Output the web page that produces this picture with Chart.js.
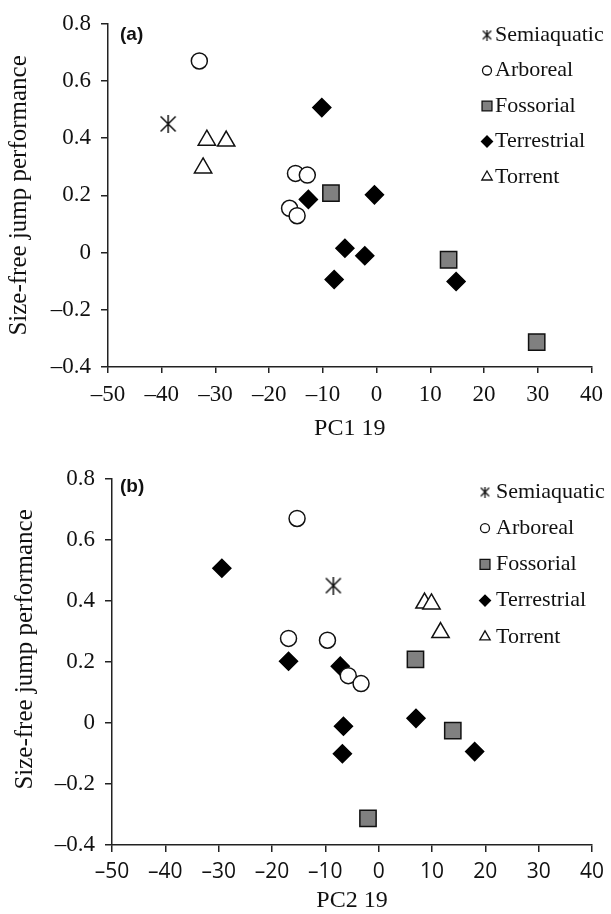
<!DOCTYPE html>
<html>
<head>
<meta charset="utf-8">
<script src="https://cdn.jsdelivr.net/npm/chart.js"></script>
<style>
  body { margin: 0; background: #fff; }
  #wrap { position: relative; width: 611px; height: 914px; overflow: hidden; }
  canvas { position: absolute; left: 0; }
  #chartA { top: 0; }
  #chartB { top: 455px; }
</style>
</head>
<body>
<div id="wrap">
  <canvas id="chartA" width="611" height="455"></canvas>
  <canvas id="chartB" width="611" height="459"></canvas>
</div>
<script>
var groupNames = ['Semiaquatic', 'Arboreal', 'Fossorial', 'Terrestrial', 'Torrent'];

// size-free jump performance (same species in both panels)
var jumpSemiaquatic = [0.45];
var jumpArboreal    = [0.67, 0.277, 0.271, 0.155, 0.129];
var jumpFossorial   = [0.208, -0.025, -0.313];
var jumpTerrestrial = [0.507, 0.186, 0.202, 0.015, -0.011, -0.094, -0.101];
var jumpTorrent     = [0.393, 0.39, 0.296];

// panel (a) : PC1 19
var pc1Semiaquatic = [-38.8];
var pc1Arboreal    = [-33.0, -15.1, -12.9, -16.2, -14.8];
var pc1Fossorial   = [-8.5, 13.4, 29.8];
var pc1Terrestrial = [-10.2, -12.7, -0.4, -5.9, -2.2, -7.9, 14.8];
var pc1Torrent     = [-31.6, -28.0, -32.3];

// panel (b) : PC2 19
var pc2Semiaquatic = [-8.5];
var pc2Arboreal    = [-15.3, -16.9, -9.6, -5.7, -3.3];
var pc2Fossorial   = [6.9, 13.9, -2.0];
var pc2Terrestrial = [-29.4, -7.2, -16.9, 7.0, -6.6, 18.0, -6.8];
var pc2Torrent     = [8.6, 9.9, 11.6];

var xTicks = [-50, -40, -30, -20, -10, 0, 10, 20, 30, 40];
var yTicks = [-0.4, -0.2, 0, 0.2, 0.4, 0.6, 0.8];

var ink = '#111';
var axisCol = '#222';
var serif = '"Liberation Serif", "Times New Roman", serif';

// asterisk marker (x plus a vertical bar)
function asterisk(size, lw) {
    var c = document.createElement('canvas');
    c.width = size; c.height = size;
    var g = c.getContext('2d');
    var p = lw;
    g.strokeStyle = '#111';
    g.lineWidth = lw;
    g.beginPath();
    g.moveTo(p, p); g.lineTo(size - p, size - p);
    g.moveTo(size - p, p); g.lineTo(p, size - p);
    g.moveTo(size / 2, 0); g.lineTo(size / 2, size);
    g.stroke();
    return c;
}
var starBig = asterisk(18, 1.5);
var starSmall = asterisk(11, 1.3);

var styles = [
    { pointStyle: starBig,    small: starSmall,  radius: 9,  legendRadius: 5,   bg: 'rgba(0,0,0,0)', border: '#111' },
    { pointStyle: 'circle',   small: 'circle',   radius: 8,  legendRadius: 4.5, bg: '#fff',          border: '#111' },
    { pointStyle: 'rect',     small: 'rect',     radius: 11.5, legendRadius: 7, bg: '#808080',       border: '#111' },
    { pointStyle: 'rectRot',  small: 'rectRot',  radius: 9,  legendRadius: 5.5, bg: '#000',          border: '#000' },
    { pointStyle: 'triangle', small: 'triangle', radius: 10, legendRadius: 6,   bg: '#fff',          border: '#111' }
];

function pts(xs, ys) {
    return xs.map(function (x, i) { return { x: x, y: ys[i] }; });
}

function fmtX(v) { return v < 0 ? '\u2013' + Math.abs(v) : String(v); }
function fmtY(v) {
    v = Math.round(v * 10) / 10;
    if (v === 0) return '0';
    return v < 0 ? '\u2013' + Math.abs(v).toFixed(1) : v.toFixed(1);
}

var sideLegend = {
    id: 'sideLegend',
    afterDraw: function (chart, args, o) {
        var ctx = chart.ctx;
        ctx.save();
        chart.data.datasets.forEach(function (ds, i) {
            var y = o.top + i * o.gap;
            var st = styles[i];
            ctx.fillStyle = st.bg;
            ctx.strokeStyle = st.border;
            ctx.lineWidth = 1.3;
            Chart.helpers.drawPoint(ctx, { pointStyle: st.small, radius: st.legendRadius, borderWidth: 1.3, rotation: 0 }, o.x, y);
            ctx.fillStyle = ink;
            ctx.font = '22px ' + serif;
            ctx.textAlign = 'left';
            ctx.textBaseline = 'middle';
            ctx.fillText(ds.label, o.textX, y);
        });
        ctx.font = 'bold 19px "Liberation Sans", Arial, sans-serif';
        ctx.fillStyle = ink;
        ctx.textBaseline = 'middle';
        ctx.fillText(o.tag, o.tagX, o.tagY);
        ctx.restore();
    }
};

function makeChart(id, xArrays, cfg) {
    var yArrays = [jumpSemiaquatic, jumpArboreal, jumpFossorial, jumpTerrestrial, jumpTorrent];
    var datasets = groupNames.map(function (name, i) {
        var st = styles[i];
        return {
            label: name,
            data: pts(xArrays[i], yArrays[i]),
            pointStyle: st.pointStyle,
            pointRadius: st.radius,
            pointHoverRadius: st.radius,
            pointBackgroundColor: st.bg,
            pointBorderColor: st.border,
            pointBorderWidth: 1.5,
            showLine: false
        };
    });

    return new Chart(document.getElementById(id), {
        type: 'scatter',
        data: { datasets: datasets },
        options: {
            responsive: false,
            animation: false,
            layout: { padding: cfg.padding },
            plugins: {
                legend: { display: false },
                tooltip: { enabled: false },
                sideLegend: cfg.legend
            },
            scales: {
                x: {
                    type: 'linear',
                    min: -50, max: 40,
                    afterBuildTicks: function (s) { s.ticks = xTicks.map(function (v) { return { value: v }; }); },
                    afterFit: function (s) { s.height = cfg.xHeight; },
                    ticks: {
                        color: ink,
                        font: cfg.xTickFont,
                        padding: cfg.xTickPad,
                        maxRotation: 0,
                        autoSkip: false,
                        callback: fmtX
                    },
                    grid: { drawOnChartArea: false, tickLength: cfg.xTickLen, color: axisCol, lineWidth: 1.5 },
                    border: { color: axisCol, width: 1.5 },
                    title: {
                        display: true,
                        text: cfg.xTitle,
                        color: ink,
                        font: { family: serif, size: 24, lineHeight: 1.1 },
                        padding: { top: 0, bottom: cfg.xTitlePad }
                    }
                },
                y: {
                    type: 'linear',
                    min: -0.4, max: 0.8,
                    afterBuildTicks: function (s) { s.ticks = yTicks.map(function (v) { return { value: v }; }); },
                    afterFit: function (s) { s.width = cfg.yWidth; },
                    ticks: {
                        color: ink,
                        font: { family: serif, size: 23 },
                        padding: cfg.yTickPad,
                        autoSkip: false,
                        callback: fmtY
                    },
                    grid: { drawOnChartArea: false, tickLength: 7, color: axisCol, lineWidth: 1.5 },
                    border: { color: axisCol, width: 1.5 },
                    title: {
                        display: true,
                        text: cfg.yTitle,
                        color: ink,
                        font: { family: serif, size: 25, lineHeight: 1.2 },
                        padding: { top: cfg.yTitlePad, bottom: 0 }
                    }
                }
            }
        },
        plugins: [sideLegend]
    });
}

makeChart('chartA',
    [pc1Semiaquatic, pc1Arboreal, pc1Fossorial, pc1Terrestrial, pc1Torrent],
    {
        padding: { left: 0, right: 14, top: 20, bottom: 0 },
        xHeight: 88, xTickLen: 6, xTickPad: 8,
        xTickFont: { family: serif, size: 23 },
        xTitle: 'PC1 19', xTitlePad: 13,
        yTitle: 'Size-free jump performance',
        yWidth: 108, yTickPad: 10, yTitlePad: 4,
        legend: { x: 487, textX: 495, top: 35, gap: 35.5, tag: '(a)', tagX: 120, tagY: 35 }
    });

makeChart('chartB',
    [pc2Semiaquatic, pc2Arboreal, pc2Fossorial, pc2Terrestrial, pc2Torrent],
    {
        padding: { left: 0, right: 15, top: 22, bottom: 0 },
        xHeight: 69, xTickLen: 7, xTickPad: 7,
        xTickFont: { family: '"Open Sans", sans-serif', size: 21 },
        xTitle: 'PC2 19', xTitlePad: 0,
        yTitle: '    Size-free jump performance',
        yWidth: 112, yTickPad: 10, yTitlePad: 10,
        legend: { x: 485, textX: 496, top: 37, gap: 36.2, tag: '(b)', tagX: 120, tagY: 32 }
    });
</script>
</body>
</html>
